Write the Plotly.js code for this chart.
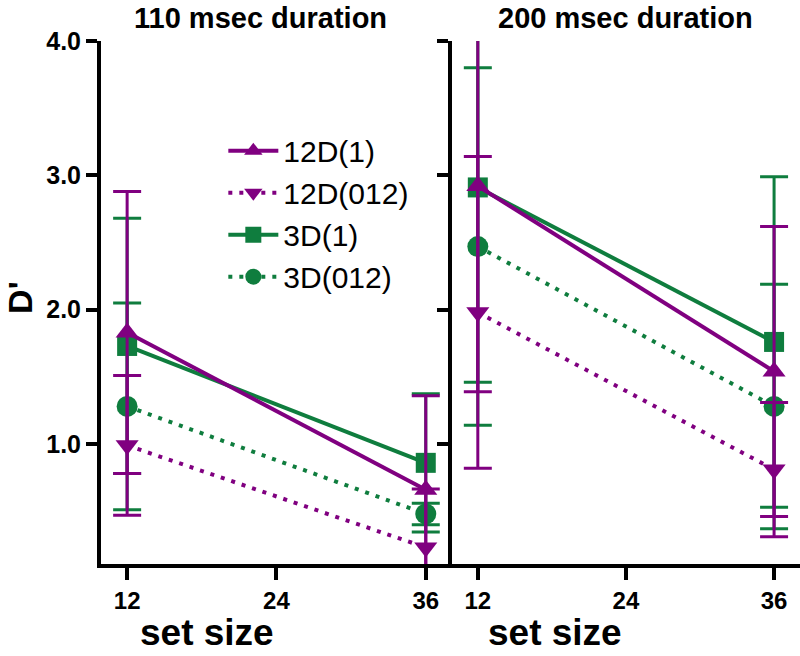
<!DOCTYPE html>
<html>
<head>
<meta charset="utf-8">
<script src="https://cdn.plot.ly/plotly-3.0.1.min.js"></script>
<style>
  html, body { margin: 0; padding: 0; background: #fff; }
  #chart { width: 800px; height: 656px; }
</style>
</head>
<body>
<div id="chart"></div>
<script>
// set sizes on the x axis
const setSize = [12, 36];
const xTicks = [12, 24, 36];
const yTicks = [1, 2, 3, 4];

// 110 msec duration panel: means and error (one side)
const ms110_12D1 = [1.83, 0.66];
const ms110_12D1_err = [1.05, 0.70];
const ms110_12D012 = [0.99, 0.23];
const ms110_12D012_err = [0.52, 0.435];
const ms110_3D1 = [1.73, 0.86];
const ms110_3D1_err = [0.95, 0.515];
const ms110_3D012 = [1.28, 0.48];
const ms110_3D012_err = [0.77, 0.08];

// 200 msec duration panel
const ms200_12D1 = [2.92, 1.54];
const ms200_12D1_err = [1.53, 1.08];
const ms200_12D012 = [1.98, 0.81];
const ms200_12D012_err = [1.16, 0.50];
const ms200_3D1 = [2.91, 1.76];
const ms200_3D1_err = [1.45, 1.23];
const ms200_3D012 = [2.47, 1.28];
const ms200_3D012_err = [1.33, 0.91];

const PURPLE = '#800080';
const GREEN = '#0f7d3e';
const FONT = 'Liberation Sans, Arial, sans-serif';

// style per series (legend order via legendrank)
const styles = {
  '12D(1)':   { color: PURPLE, symbol: 'triangle-up',   dash: 'solid',   rank: 1 },
  '12D(012)': { color: PURPLE, symbol: 'triangle-down', dash: '4px,7px', rank: 2 },
  '3D(1)':    { color: GREEN,  symbol: 'square',        dash: 'solid',   rank: 3 },
  '3D(012)':  { color: GREEN,  symbol: 'circle',        dash: '4px,7px', rank: 4 }
};

function trace(name, y, err, xa, ya, legend){
  const s = styles[name];
  return {
    x: setSize, y: y, name: name, xaxis: xa, yaxis: ya,
    type: 'scatter', mode: 'lines+markers',
    showlegend: legend, legendrank: s.rank,
    line: { color: s.color, width: 4, dash: s.dash },
    marker: { color: s.color, symbol: s.symbol, size: s.symbol === 'circle' ? 21 : 20 },
    error_y: { type: 'data', array: err, visible: true, color: s.color, thickness: 3, width: 14 }
  };
}

// green first so purple draws on top
const data = [
  trace('3D(1)', ms110_3D1, ms110_3D1_err, 'x', 'y', true),
  trace('3D(012)', ms110_3D012, ms110_3D012_err, 'x', 'y', true),
  trace('12D(1)', ms110_12D1, ms110_12D1_err, 'x', 'y', true),
  trace('12D(012)', ms110_12D012, ms110_12D012_err, 'x', 'y', true),
  trace('3D(1)', ms200_3D1, ms200_3D1_err, 'x2', 'y2', false),
  trace('3D(012)', ms200_3D012, ms200_3D012_err, 'x2', 'y2', false),
  trace('12D(1)', ms200_12D1, ms200_12D1_err, 'x2', 'y2', false),
  trace('12D(012)', ms200_12D012, ms200_12D012_err, 'x2', 'y2', false)
];

const xBase = {
  range: [9.9, 38.1], tickvals: xTicks, ticks: 'outside', ticklen: 12, tickwidth: 4,
  tickcolor: '#000', showline: true, linecolor: '#000', linewidth: 4,
  showgrid: false, zeroline: false, fixedrange: true,
  tickfont: { family: FONT, size: 24, color: '#000', weight: 'bold' }
};
const yBase = {
  range: [0.107, 4.0], tickvals: yTicks, tickformat: '.1f', ticks: 'outside', ticklen: 11, tickwidth: 4,
  tickcolor: '#000', showline: true, linecolor: '#000', linewidth: 4,
  showgrid: false, zeroline: false, fixedrange: true,
  tickfont: { family: FONT, size: 25, color: '#000', weight: 'bold' }
};

const layout = {
  width: 800, height: 656,
  margin: { l: 101, r: 0, t: 41, b: 92 },
  paper_bgcolor: '#fff', plot_bgcolor: '#fff',
  showlegend: true,
  legend: {
    x: 0.175, y: 0.84, xanchor: 'left', yanchor: 'top',
    font: { family: FONT, size: 30, color: '#000' },
    bgcolor: 'rgba(0,0,0,0)', tracegroupgap: 0, itemwidth: 50
  },
  xaxis: Object.assign({}, xBase, { domain: [0, 0.502], anchor: 'y' }),
  yaxis: Object.assign({}, yBase, { domain: [0, 1], anchor: 'x' }),
  xaxis2: Object.assign({}, xBase, { domain: [0.502, 1], anchor: 'y2' }),
  yaxis2: Object.assign({}, yBase, { domain: [0, 1], anchor: 'x2', showticklabels: false }),
  annotations: [
    { text: '110 msec duration', xref: 'paper', yref: 'paper', x: 0.2275, y: 1.0784, showarrow: false,
      xanchor: 'center', yanchor: 'top', font: { family: FONT, size: 29, color: '#000', weight: 'bold' } },
    { text: '200 msec duration', xref: 'paper', yref: 'paper', x: 0.75, y: 1.0784, showarrow: false,
      xanchor: 'center', yanchor: 'top', font: { family: FONT, size: 29, color: '#000', weight: 'bold' } },
    { text: 'set size', xref: 'paper', yref: 'paper', x: 0.151, y: -0.174, showarrow: false,
      xanchor: 'center', yanchor: 'bottom', font: { family: FONT, size: 37, color: '#000', weight: 'bold' } },
    { text: 'set size', xref: 'paper', yref: 'paper', x: 0.65, y: -0.174, showarrow: false,
      xanchor: 'center', yanchor: 'bottom', font: { family: FONT, size: 37, color: '#000', weight: 'bold' } },
    { text: "D'", xref: 'paper', yref: 'paper', x: -0.115, y: 0.51, showarrow: false, textangle: -90,
      xanchor: 'center', yanchor: 'middle', font: { family: FONT, size: 34, color: '#000', weight: 'bold' } }
  ]
};

Plotly.newPlot('chart', data, layout, { displayModeBar: false, staticPlot: true });
</script>
</body>
</html>
